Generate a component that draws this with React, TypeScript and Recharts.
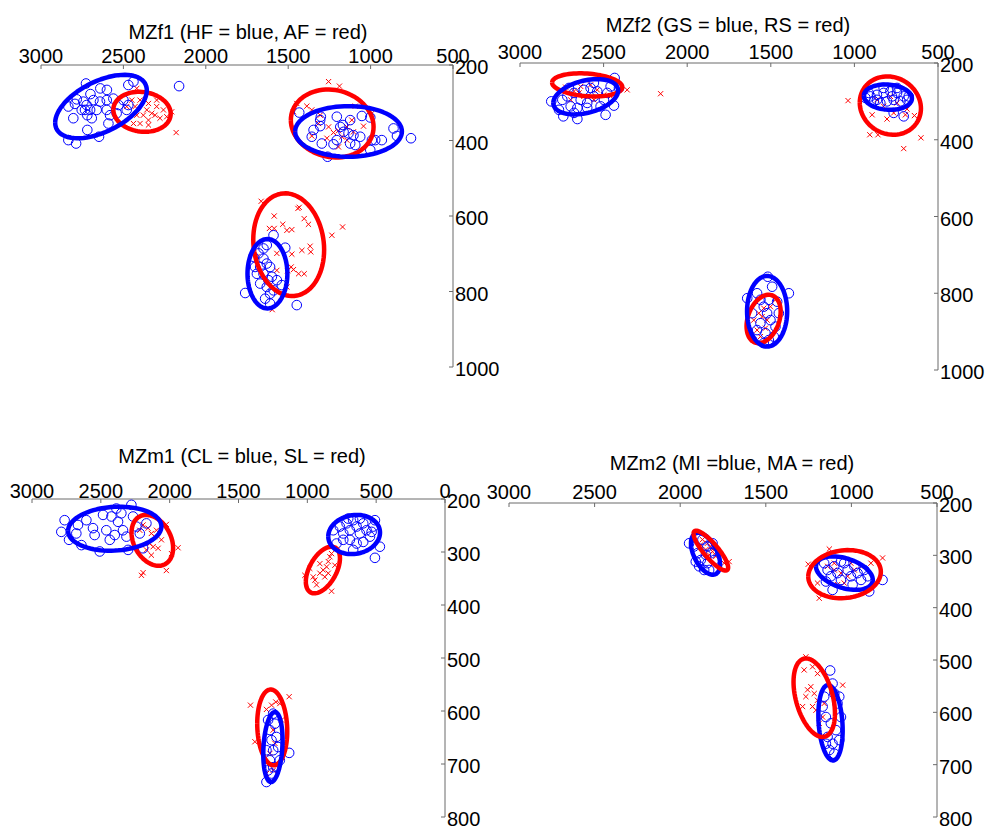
import React from "react";
import { ScatterChart, Scatter, XAxis, YAxis } from "recharts";

// [F2, F1] in Hz
type Pt = [number, number];
// [F2 centre, F1 centre, F2 half-width, F1 half-height, tilt (correlation)]
type Ell = [number, number, number, number, number];

const FONT = "'Liberation Sans', Arial, Helvetica, sans-serif";
const AXIS = "#6b6b6b";
const BLUE = "#0000ff";
const RED = "#ff0000";

const f2Ticks = [500, 1000, 1500, 2000, 2500, 3000];
const f2TicksWide = [0, 500, 1000, 1500, 2000, 2500, 3000];
const f1TicksF = [200, 400, 600, 800, 1000];
const f1TicksM = [200, 300, 400, 500, 600, 700, 800];

// MZf1 (HF = blue, AF = red)
const mzf1Blue: Pt[] = [
  [2727, 249], [2640, 262], [2600, 266], [2700, 277], [2783, 291], [2743, 297], [2682, 293], [2723, 306],
  [2642, 297], [2601, 293], [2561, 289], [2834, 310], [2794, 303], [2733, 319], [2702, 319], [2662, 319],
  [2601, 319], [2581, 333], [2804, 341], [2719, 333], [2692, 341], [2591, 355], [2719, 372], [2834, 399],
  [2787, 408], [2648, 390], [2470, 253], [2439, 244], [2500, 293], [2470, 306], [2162, 256], [2530, 306],
  [2753, 319], [2480, 319], [2541, 328],
  [1433, 326], [1302, 337], [1306, 362], [1357, 390], [1296, 408], [1261, 443], [1225, 410], [1205, 399],
  [1164, 377], [1184, 364], [1124, 346], [1104, 386], [1063, 390], [1124, 408], [1093, 412], [1002, 339],
  [992, 399], [972, 399], [932, 399], [861, 368], [755, 394], [840, 388], [1002, 425], [1346, 372],
  [1205, 337], [1053, 335], [1134, 381], [1306, 346], [1168, 359],
  [1761, 804], [1711, 708], [1680, 699], [1650, 686], [1630, 677], [1589, 651], [1518, 684], [1670, 735],
  [1650, 753], [1630, 726], [1610, 735], [1620, 770], [1599, 761], [1630, 788], [1610, 806], [1640, 819],
  [1690, 753], [1670, 779], [1569, 770], [1539, 783], [1589, 797], [1448, 836], [1650, 713], [1701, 735],
  [1610, 832],
];
const mzf1Red: Pt[] = [
  [2419, 262], [2449, 293], [2399, 293], [2348, 302], [2298, 310], [2257, 319], [2207, 324], [2429, 310],
  [2358, 319], [2308, 333], [2278, 341], [2439, 355], [2399, 355], [2348, 346], [2328, 328], [2480, 310],
  [2379, 333], [2298, 293], [2180, 379], [2237, 337], [2419, 333], [2348, 359],
  [1255, 244], [1189, 256], [1468, 324], [1448, 302], [1387, 309], [1357, 319], [1306, 333], [1255, 364],
  [1225, 379], [1195, 374], [1144, 364], [1114, 346], [1093, 309], [1043, 362], [1174, 390], [1144, 399],
  [1357, 388], [992, 328], [1265, 394], [1195, 417], [1104, 377], [1316, 355],
  [1664, 561], [1585, 600], [1614, 633], [1585, 633], [1533, 622], [1508, 638], [1478, 636], [1441, 580],
  [1433, 577], [1403, 607], [1377, 622], [1235, 651], [1170, 629], [1478, 701], [1417, 691], [1367, 680],
  [1363, 695], [1482, 735], [1468, 742], [1437, 753], [1403, 753], [1504, 745], [1569, 699], [1569, 744],
  [1690, 708], [1597, 848], [1508, 788],
];
const mzf1BlueEllipses: Ell[] = [
  [2636, 310, 278, 84, 0.51],
  [1134, 376, 324, 67, 0],
  [1626, 753, 121, 92, 0],
];
const mzf1RedEllipses: Ell[] = [
  [2387, 324, 174, 53, -0.1],
  [1233, 355, 251, 90, -0.1],
  [1497, 676, 215, 136, -0.1],
];

// MZf2 (GS = blue, RS = red)
const mzf2Blue: Pt[] = [
  [2813, 300], [2741, 339], [2657, 346], [2488, 335], [2434, 239], [2438, 311], [2498, 296], [2558, 287],
  [2598, 304], [2637, 296], [2677, 278], [2717, 287], [2747, 296], [2618, 270], [2578, 265], [2538, 274],
  [2657, 317], [2598, 317], [2697, 313], [2518, 313], [2558, 252], [2458, 261], [2478, 278], [2707, 265],
  [2767, 322], [2677, 330], [2408, 265],
  [934, 291], [904, 287], [865, 283], [825, 278], [785, 274], [745, 278], [705, 287], [685, 296],
  [765, 296], [805, 300], [845, 304], [884, 300], [914, 278], [775, 287], [725, 300], [705, 339],
  [765, 330], [825, 265], [745, 265], [865, 296], [675, 287],
  [1518, 757], [1492, 783], [1392, 800], [1641, 813], [1582, 800], [1562, 817], [1542, 835], [1522, 852],
  [1502, 870], [1562, 878], [1582, 896], [1532, 904], [1482, 913], [1462, 822], [1452, 852], [1612, 852],
  [1472, 887], [1542, 930], [1512, 817], [1512, 922],
];
const mzf2Red: Pt[] = [
  [2359, 270], [2159, 280], [2727, 263], [2677, 274], [2637, 261], [2578, 257], [2538, 270], [2498, 283],
  [2458, 287], [2618, 287], [2697, 296], [2558, 296], [2647, 278],
  [1038, 298], [908, 387], [859, 387], [894, 335], [805, 346], [765, 330], [695, 335], [641, 337],
  [685, 320], [705, 423], [602, 395], [865, 296], [785, 287], [825, 313], [745, 304],
  [1602, 870], [1572, 852], [1552, 861], [1582, 896], [1532, 891], [1562, 913], [1502, 835], [1472, 817],
  [1602, 922], [1522, 870], [1542, 839],
];
const mzf2BlueEllipses: Ell[] = [
  [2607, 288, 194, 46, 0.35],
  [800, 289, 144, 33, -0.1],
  [1522, 847, 120, 92, 0],
];
const mzf2RedEllipses: Ell[] = [
  [2598, 257, 210, 30, -0.2],
  [785, 311, 183, 76, -0.1],
  [1543, 867, 102, 63, 0.3],
];

// MZm1 (CL = blue, SL = red)
const mzm1Blue: Pt[] = [
  [2763, 240], [2787, 262], [2731, 277], [2666, 249], [2678, 265], [2641, 287], [2557, 255], [2545, 268],
  [2508, 299], [2484, 230], [2460, 259], [2435, 277], [2387, 218], [2375, 243], [2351, 227], [2339, 259],
  [2314, 271], [2302, 296], [2278, 211], [2266, 233], [2242, 252], [2217, 265], [2169, 246], [2193, 293],
  [2423, 233], [2605, 240], [2399, 268],
  [812, 259], [764, 252], [739, 265], [715, 246], [691, 259], [667, 240], [642, 252], [618, 265],
  [594, 246], [570, 259], [545, 271], [521, 252], [509, 240], [473, 290], [509, 311], [788, 284],
  [691, 277], [642, 284], [739, 277], [667, 296], [594, 281], [533, 262], [703, 237], [618, 237],
  [1297, 734], [1132, 679], [1285, 617], [1272, 636], [1260, 655], [1248, 674], [1272, 693], [1248, 706],
  [1260, 718], [1236, 624], [1224, 649], [1212, 668], [1297, 674], [1285, 712], [1248, 605], [1200, 693],
];
const mzm1Red: Pt[] = [
  [2193, 249], [2157, 255], [2133, 265], [2145, 284], [2120, 290], [2084, 293], [2060, 277], [2024, 248],
  [1939, 292], [2024, 335], [2205, 344], [2193, 339], [2096, 259], [2217, 259], [2169, 296], [2133, 306],
  [1987, 303], [2108, 271],
  [1018, 344], [957, 347], [945, 353], [909, 340], [885, 334], [860, 328], [848, 318], [836, 309],
  [824, 303], [873, 347], [933, 362], [824, 374], [800, 325], [909, 322], [982, 331], [848, 340],
  [1413, 589], [1132, 573], [1297, 597], [1260, 589], [1229, 583], [1200, 586], [1381, 658], [1248, 636],
  [1236, 661], [1272, 680], [1248, 712], [1297, 718], [1188, 617],
];
const mzm1BlueEllipses: Ell[] = [
  [2399, 256, 339, 41.5, 0.1],
  [660, 267, 188, 37, 0.1],
  [1250, 668, 70, 66, 0.2],
];
const mzm1RedEllipses: Ell[] = [
  [2126, 278, 151, 48, -0.3],
  [887, 334, 124, 44, 0.5],
  [1255, 631, 109, 71.5, -0.1],
];

// MZm2 (MI = blue, MA = red)
const mzm2Blue: Pt[] = [
  [1948, 277], [1919, 283], [1899, 296], [1880, 309], [1889, 321], [1860, 328], [1870, 270], [1841, 283],
  [1821, 296], [1802, 309], [1841, 315], [1909, 312], [1850, 299], [1811, 277], [1831, 328],
  [1159, 315], [1139, 328], [1120, 340], [1100, 321], [1081, 334], [1061, 347], [1042, 315], [1022, 328],
  [1003, 340], [983, 321], [964, 334], [944, 347], [925, 328], [905, 340], [818, 347], [896, 369],
  [1110, 366], [1149, 350], [1061, 312], [993, 356],
  [1124, 520], [1110, 545], [1100, 564], [1159, 570], [1168, 589], [1149, 609], [1120, 621], [1090, 634],
  [1139, 647], [1110, 660], [1071, 653], [1061, 609], [1081, 583], [1129, 672], [1100, 679], [1149, 660],
  [1071, 570],
];
const mzm2Red: Pt[] = [
  [1870, 270], [1841, 277], [1821, 283], [1850, 289], [1811, 293], [1792, 302], [1831, 299], [1802, 286],
  [1714, 312], [1743, 315], [1880, 280],
  [1129, 288], [818, 305], [1252, 317], [1188, 382], [1198, 353], [1139, 321], [1100, 328], [1061, 334],
  [1022, 340], [983, 328], [1042, 353], [1081, 356], [944, 321], [886, 315], [1100, 315], [1003, 315],
  [1266, 494], [1276, 519], [1227, 513], [1198, 526], [1256, 557], [1237, 551], [1217, 564], [1266, 570],
  [1198, 577], [1159, 583], [1207, 596], [1168, 609], [1188, 621], [1051, 548], [1227, 589], [1285, 589],
];
const mzm2BlueEllipses: Ell[] = [
  [1852, 297, 85, 40, -0.5],
  [1041, 334, 166, 32, -0.4],
  [1122, 620, 71, 72, -0.2],
];
const mzm2RedEllipses: Ell[] = [
  [1821, 291, 101, 38, -0.85],
  [1040, 336, 212, 46, 0.1],
  [1217, 572, 121, 75, -0.4],
];

const toXY = (pts: Pt[]) => pts.map(([x, y]) => ({ x, y }));

// closed outline of a tilted ellipse, in data units
function outline([cx, cy, rx, ry, rho]: Ell) {
  const k = Math.sqrt(1 - rho * rho);
  const out: { x: number; y: number }[] = [];
  for (let i = 0; i <= 80; i++) {
    const t = (i / 80) * Math.PI * 2;
    out.push({ x: cx + rx * Math.cos(t), y: cy + ry * (rho * Math.cos(t) + k * Math.sin(t)) });
  }
  return out;
}

const Ring = (p: any) => (
  <circle cx={p.cx} cy={p.cy} r={4.8} fill="none" stroke={BLUE} strokeWidth={1} />
);
const Cross = (p: any) => (
  <path
    d={`M${p.cx - 2.6},${p.cy - 2.6}L${p.cx + 2.6},${p.cy + 2.6}M${p.cx - 2.6},${p.cy + 2.6}L${p.cx + 2.6},${p.cy - 2.6}`}
    stroke={RED}
    strokeWidth={1}
    fill="none"
  />
);
const Nothing = () => <g />;

const ML = 30; // room left of the plot for the first tick label
const AX_H = 30;
const AX_W = 60;
const MB = 25; // room below the plot for the last tick label

interface PanelProps {
  box: { left: number; right: number; top: number; bottom: number };
  xDomain: [number, number];
  xTicks: number[];
  yDomain: [number, number];
  yTicks: number[];
  blue: Pt[];
  red: Pt[];
  blueEll: Ell[];
  redEll: Ell[];
  redOnTop?: boolean;
  labelGap: number;
}

function Panel({ box, xDomain, xTicks, yDomain, yTicks, blue, red, blueEll, redEll, redOnTop, labelGap }: PanelProps) {
  const left = box.left - ML;
  const top = box.top - AX_H;
  const width = box.right - left + AX_W;
  const height = box.bottom - top + MB;
  const axisY = AX_H;
  const axisX = width - AX_W;

  const xTick = (p: any) => (
    <g>
      <line x1={p.x} x2={p.x} y1={axisY} y2={axisY + 4} stroke={AXIS} />
      <text x={p.x} y={axisY - labelGap} textAnchor="middle" fontSize={20} fontFamily={FONT} fill="#000">
        {p.payload.value}
      </text>
    </g>
  );
  const yTick = (p: any) => (
    <g>
      <line x1={axisX - 4} x2={axisX} y1={p.y} y2={p.y} stroke={AXIS} />
      <text x={axisX + 2} y={p.y + 9} textAnchor="start" fontSize={20} fontFamily={FONT} fill="#000">
        {p.payload.value}
      </text>
    </g>
  );

  const ring = (e: Ell, color: string, key: string) => (
    <Scatter
      key={key}
      data={outline(e)}
      line={{ stroke: color, strokeWidth: 4.5, strokeLinejoin: "round" }}
      lineJointType="linear"
      shape={Nothing}
      isAnimationActive={false}
    />
  );
  const blueRings = blueEll.map((e, i) => ring(e, BLUE, `be${i}`));
  const redRings = redEll.map((e, i) => ring(e, RED, `re${i}`));

  return (
    <div style={{ position: "absolute", left, top }}>
      <ScatterChart width={width} height={height} margin={{ top: 0, right: 0, bottom: MB, left: ML }}>
        <XAxis
          type="number"
          dataKey="x"
          orientation="top"
          reversed
          domain={xDomain}
          ticks={xTicks}
          allowDataOverflow
          height={AX_H}
          tickSize={0}
          tickMargin={0}
          tickLine={false}
          axisLine={{ stroke: AXIS }}
          tick={xTick}
          interval={0}
        />
        <YAxis
          type="number"
          dataKey="y"
          orientation="right"
          reversed
          domain={yDomain}
          ticks={yTicks}
          allowDataOverflow
          width={AX_W}
          tickSize={0}
          tickMargin={0}
          tickLine={false}
          axisLine={{ stroke: AXIS }}
          tick={yTick}
          interval={0}
        />
        <Scatter data={toXY(red)} shape={Cross} isAnimationActive={false} />
        <Scatter data={toXY(blue)} shape={Ring} isAnimationActive={false} />
        {redOnTop ? blueRings : redRings}
        {redOnTop ? redRings : blueRings}
      </ScatterChart>
    </div>
  );
}

const titles = [
  { text: "MZf1 (HF = blue, AF = red)", x: 248, y: 39 },
  { text: "MZf2 (GS = blue, RS = red)", x: 728, y: 32 },
  { text: "MZm1 (CL = blue, SL = red)", x: 242, y: 463 },
  { text: "MZm2 (MI =blue, MA = red)", x: 732, y: 470 },
];

export default function App() {
  return (
    <div style={{ position: "absolute", left: 0, top: 0, width: 988, height: 827, background: "#fff", overflow: "hidden" }}>
      <Panel
        box={{ left: 41, right: 453, top: 65, bottom: 367 }}
        xDomain={[500, 3000]}
        xTicks={f2Ticks}
        yDomain={[200, 1000]}
        yTicks={f1TicksF}
        blue={mzf1Blue}
        red={mzf1Red}
        blueEll={mzf1BlueEllipses}
        redEll={mzf1RedEllipses}
        labelGap={2}
      />
      <Panel
        box={{ left: 520, right: 938, top: 63, bottom: 370 }}
        xDomain={[500, 3000]}
        xTicks={f2Ticks}
        yDomain={[200, 1000]}
        yTicks={f1TicksF}
        blue={mzf2Blue}
        red={mzf2Red}
        blueEll={mzf2BlueEllipses}
        redEll={mzf2RedEllipses}
        labelGap={4}
      />
      <Panel
        box={{ left: 32, right: 445, top: 499, bottom: 817 }}
        xDomain={[0, 3000]}
        xTicks={f2TicksWide}
        yDomain={[200, 800]}
        yTicks={f1TicksM}
        blue={mzm1Blue}
        red={mzm1Red}
        blueEll={mzm1BlueEllipses}
        redEll={mzm1RedEllipses}
        labelGap={1}
      />
      <Panel
        box={{ left: 509, right: 937, top: 503, bottom: 817 }}
        xDomain={[500, 3000]}
        xTicks={f2Ticks}
        yDomain={[200, 800]}
        yTicks={f1TicksM}
        blue={mzm2Blue}
        red={mzm2Red}
        blueEll={mzm2BlueEllipses}
        redEll={mzm2RedEllipses}
        redOnTop
        labelGap={4}
      />
      <svg width={988} height={827} style={{ position: "absolute", left: 0, top: 0, pointerEvents: "none" }}>
        {titles.map((t) => (
          <text key={t.text} x={t.x} y={t.y} textAnchor="middle" fontSize={20} fontFamily={FONT} fill="#000">
            {t.text}
          </text>
        ))}
      </svg>
    </div>
  );
}
